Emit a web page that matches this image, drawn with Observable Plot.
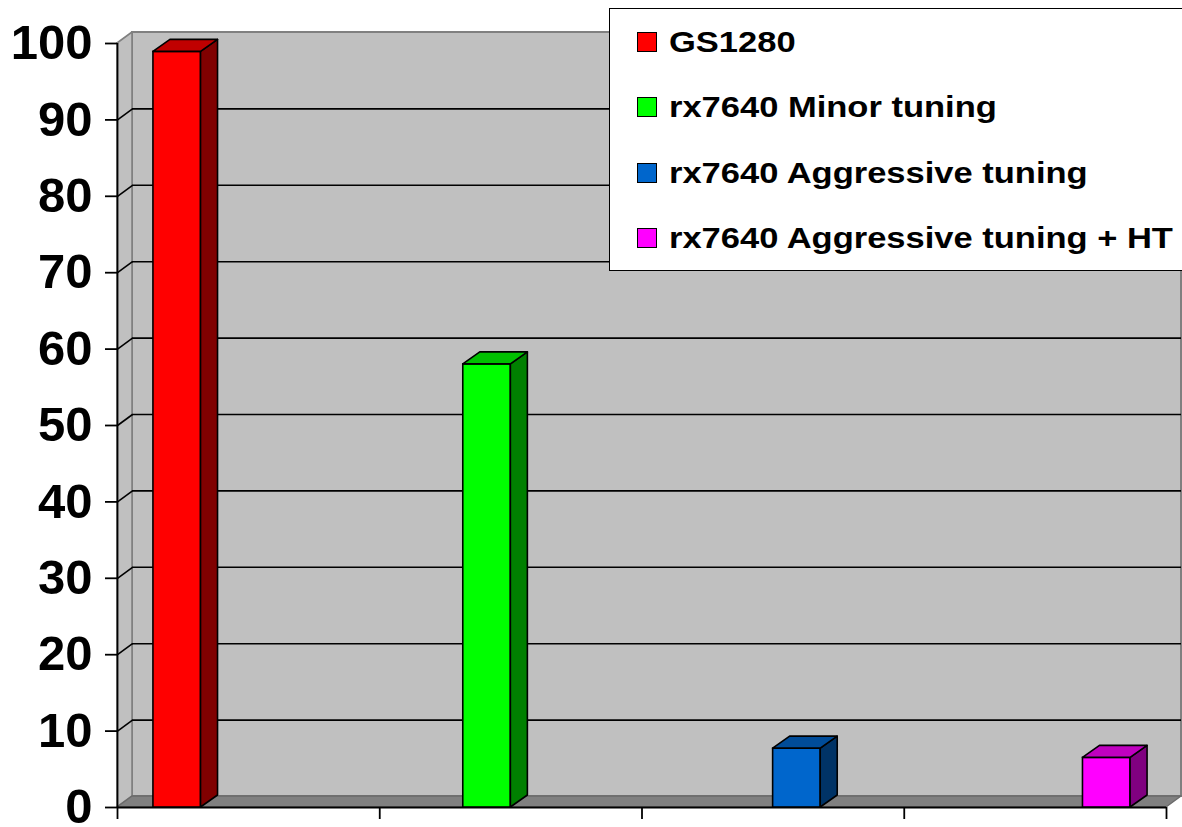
<!DOCTYPE html>
<html>
<head>
<meta charset="utf-8">
<script src="https://cdn.jsdelivr.net/npm/d3@7"></script>
<script src="https://cdn.jsdelivr.net/npm/@observablehq/plot@0.6"></script>
<style>
html, body { margin: 0; padding: 0; background: #fff; overflow: hidden; }
#wrap { position: relative; width: 1182px; height: 827px; }
#legend { position: absolute; left: 609px; top: 8px; width: 620px; height: 263px; background: #fff;
  border: 1.6px solid #000; box-sizing: border-box; font-family: "Liberation Sans", Arial, sans-serif; font-weight: bold; color: #000; }
.item { position: absolute; left: 27px; height: 20px; display: flex; align-items: center; }
.sw { width: 20px; height: 20px; border: 1.6px solid #000; box-sizing: border-box; flex: none; }
.lab { font-size: 30px; margin-left: 12px; transform: scaleX(1.15); transform-origin: left center; white-space: nowrap; }
</style>
</head>
<body>
<div id="wrap"></div>
<script>
// ---- data ----
const series = ["GS1280", "rx7640 Minor tuning", "rx7640 Aggressive tuning", "rx7640 Aggressive tuning + HT"];
const values = [98.9, 58.0, 7.7, 6.5];
const frontColors = ["#ff0000", "#00ff00", "#0066cc", "#ff00ff"];
const topColors = ["#c00000", "#00c000", "#004c99", "#c000c0"];
const sideColors = ["#800000", "#008000", "#003366", "#800080"];
const yTicks = [0, 10, 20, 30, 40, 50, 60, 70, 80, 90, 100];
const xTicks = [0, 1, 2, 3, 4];

// ---- layout ----
const W = 1182, H = 827, mL = 117, mR = 16, mT = 43, mB = 20;
const nCat = series.length;
const yMax = 100;
const pxX = (W - mL - mR) / nCat, pxY = (H - mT - mB) / yMax;
const wallDX = 15 / pxX, wallDY = 11 / pxY;
const barDX = 17 / pxX, barDY = 12 / pxY;
const slot = d3.scaleBand().domain(d3.range(nCat)).range([0, 1]).paddingInner(0).paddingOuter(0.755);

const bars = series.map((name, i) => ({
  name, i, v: values[i],
  x1: i + slot(i), x2: i + slot(i) + slot.bandwidth(),
  front: frontColors[i], top: topColors[i], side: sideColors[i]
}));

const wallFill = "#c0c0c0", wallEdge = "#808080";
const inner = yTicks.filter(t => t > 0 && t < yMax);

const marks = [
  // back wall
  Plot.rect([{x1: wallDX, x2: nCat + wallDX, y1: wallDY, y2: yMax + wallDY}],
    {x1: "x1", x2: "x2", y1: "y1", y2: "y2", fill: wallFill, stroke: wallEdge, strokeWidth: 2}),
  // left side wall
  Plot.area([{x: 0, y1: 0, y2: yMax}, {x: wallDX, y1: wallDY, y2: yMax + wallDY}],
    {x1: "x", y1: "y1", y2: "y2", fill: wallFill, stroke: wallEdge, strokeWidth: 1.6}),
  // gridlines on back wall
  Plot.ruleY(inner, {y: d => d + wallDY, x1: wallDX, x2: nCat + wallDX, stroke: "#000", strokeWidth: 1.6}),
  // gridlines on side wall
  Plot.link(inner, {x1: 0, x2: wallDX, y1: d => d, y2: d => d + wallDY, stroke: "#000", strokeWidth: 1.6}),
  // floor
  Plot.area([{y: 0, x1: 0, x2: nCat}, {y: wallDY, x1: wallDX, x2: nCat + wallDX}],
    {y1: "y", x1: "x1", x2: "x2", fill: "#808080", stroke: "#6a6a6a", strokeWidth: 1.4}),
  // front axis lines
  Plot.ruleX([0], {y1: 0, y2: yMax, stroke: "#000", strokeWidth: 1.8}),
  Plot.ruleY([0], {x1: 0, x2: nCat, stroke: "#000", strokeWidth: 2}),
  Plot.axisY({ticks: yTicks, tickSize: 12, tickPadding: 13, fontSize: 49, fontWeight: "bold",
    strokeWidth: 1.8, label: null}),
  Plot.axisX({ticks: xTicks, tickSize: 12, tickFormat: () => "", strokeWidth: 1.8, label: null}),
  // bars
  ...bars.flatMap(b => [
    Plot.rect([b], {x1: "x1", x2: "x2", y1: 0, y2: "v", fill: b.front, stroke: "#000", strokeWidth: 1.6}),
    Plot.area([{x: b.x2, y1: 0, y2: b.v}, {x: b.x2 + barDX, y1: barDY, y2: b.v + barDY}],
      {x1: "x", y1: "y1", y2: "y2", fill: b.side, stroke: "#000", strokeWidth: 1.6, strokeLinejoin: "round"}),
    Plot.area([{y: b.v, x1: b.x1, x2: b.x2}, {y: b.v + barDY, x1: b.x1 + barDX, x2: b.x2 + barDX}],
      {y1: "y", x1: "x1", x2: "x2", fill: b.top, stroke: "#000", strokeWidth: 1.6, strokeLinejoin: "round"})
  ])
];

const chart = Plot.plot({
  width: W, height: H,
  marginLeft: mL, marginRight: mR, marginTop: mT, marginBottom: mB,
  x: {domain: [0, nCat]},
  y: {domain: [0, yMax]},
  style: {fontFamily: '"Liberation Sans", Arial, sans-serif', fontWeight: "bold", color: "#000", background: "#fff", overflow: "visible"},
  marks
});
const wrap = document.getElementById("wrap");
wrap.appendChild(chart);

// legend
const legend = document.createElement("div");
legend.id = "legend";
series.forEach((name, i) => {
  const item = document.createElement("div");
  item.className = "item";
  item.style.top = (23 + 65.3 * i) + "px";
  const sw = document.createElement("div");
  sw.className = "sw";
  sw.style.background = frontColors[i];
  const lab = document.createElement("span");
  lab.className = "lab";
  lab.textContent = name;
  item.appendChild(sw);
  item.appendChild(lab);
  legend.appendChild(item);
});
wrap.appendChild(legend);
</script>
</body>
</html>
